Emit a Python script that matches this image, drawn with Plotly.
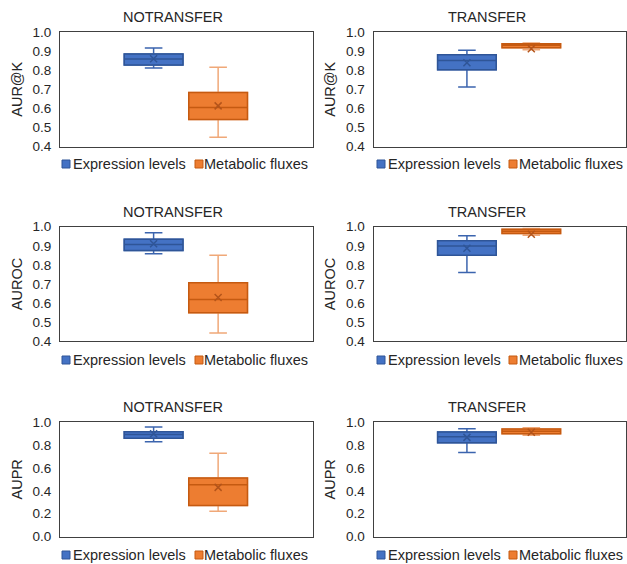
import plotly.graph_objects as go

W, H = 627, 564

series = ["Expression levels", "Metabolic fluxes"]
metrics = ["AUR@K", "AUROC", "AUPR"]
settings = ["NOTRANSFER", "TRANSFER"]

# stats order: lower whisker, Q1, median, Q3, upper whisker, mean
aurk_notransfer_expr = [0.811, 0.827, 0.858, 0.885, 0.916, 0.860]
aurk_notransfer_met = [0.449, 0.542, 0.605, 0.683, 0.815, 0.613]
aurk_transfer_expr = [0.712, 0.802, 0.851, 0.881, 0.905, 0.839]
aurk_transfer_met = [0.907, 0.918, 0.930, 0.938, 0.942, 0.912]
auroc_notransfer_expr = [0.858, 0.876, 0.907, 0.934, 0.968, 0.911]
auroc_notransfer_met = [0.444, 0.550, 0.619, 0.706, 0.851, 0.629]
auroc_transfer_expr = [0.760, 0.850, 0.899, 0.927, 0.953, 0.887]
auroc_transfer_met = [0.955, 0.965, 0.976, 0.986, 0.990, 0.960]
aupr_notransfer_expr = [0.828, 0.858, 0.892, 0.916, 0.956, 0.898]
aupr_notransfer_met = [0.221, 0.273, 0.453, 0.512, 0.727, 0.430]
aupr_transfer_expr = [0.735, 0.820, 0.872, 0.913, 0.942, 0.866]
aupr_transfer_met = [0.884, 0.898, 0.919, 0.939, 0.950, 0.910]

y_ranges = [[0.4, 1.0], [0.4, 1.0], [0.0, 1.0]]
y_dticks = [0.1, 0.1, 0.2]

panel_data = [
    [(aurk_notransfer_expr, aurk_notransfer_met), (aurk_transfer_expr, aurk_transfer_met)],
    [(auroc_notransfer_expr, auroc_notransfer_met), (auroc_transfer_expr, auroc_transfer_met)],
    [(aupr_notransfer_expr, aupr_notransfer_met), (aupr_transfer_expr, aupr_transfer_met)],
]

FONT = "Liberation Sans, Arial, sans-serif"
TXT = "#262626"
fills = ["#4472C4", "#ED7D31"]
borders = ["#2F5597", "#C55A11"]
whisk = ["#3B64AE", "#F0A878"]
means = ["#2F5597", "#B4541A"]
positions = [0.37, 0.625]
BOXW = 0.232

# pixel layout helpers
def px_x(v):
    return v / W

def px_y(v):
    return 1 - v / H

col_x = [(60, 313), (373.5, 626)]
row_y = [(32, 146.5), (226.7, 341.3), (422, 536.7)]
title_x = [173, 487]
title_y = [17, 212, 407]
legend_y = [164, 360, 555]
legend_sq = [(62, 195), (377, 509)]
legend_tx = [(71, 202), (386, 517)]

fig = go.Figure()
layout = dict(
    width=W, height=H, autosize=False,
    margin=dict(l=0, r=0, t=0, b=0, pad=0, autoexpand=False),
    paper_bgcolor="white", plot_bgcolor="white",
    font=dict(family=FONT, color=TXT, size=13.5),
    showlegend=False,
)
annotations = []
shapes = []

idx = 0
for r in range(3):
    for c in range(2):
        idx += 1
        xa = "x" if idx == 1 else f"x{idx}"
        ya = "y" if idx == 1 else f"y{idx}"
        xk = "xaxis" if idx == 1 else f"xaxis{idx}"
        yk = "yaxis" if idx == 1 else f"yaxis{idx}"
        layout[xk] = dict(
            domain=[px_x(col_x[c][0]), px_x(col_x[c][1])], range=[0, 1],
            anchor=ya, showticklabels=False, showgrid=False, zeroline=False,
            showline=True, mirror=True, linecolor="#404040", linewidth=1,
            ticks="", fixedrange=True, automargin=False,
        )
        layout[yk] = dict(
            domain=[px_y(row_y[r][1]), px_y(row_y[r][0])], range=y_ranges[r],
            dtick=y_dticks[r], tick0=0, tickformat=".1f", anchor=xa,
            showgrid=False, zeroline=False, showline=True, mirror=True,
            linecolor="#404040", linewidth=1, ticks="", automargin=False,
            tickfont=dict(size=13.5, color=TXT), ticklabelstandoff=5,
            title=dict(text=metrics[r], font=dict(size=14.5, color=TXT), standoff=6),
            fixedrange=True,
        )
        for s in range(2):
            st = panel_data[r][c][s]
            lo, q1, med, q3, hi, mn = st
            pos = positions[s]
            # whiskers
            fig.add_trace(go.Box(
                x=[pos], lowerfence=[lo], q1=[q1], median=[med], q3=[q3], upperfence=[hi],
                width=BOXW, whiskerwidth=0.3, fillcolor=fills[s],
                line=dict(color=whisk[s], width=1.5), boxpoints=False,
                name=series[s], xaxis=xa, yaxis=ya, hoverinfo="skip", showlegend=False,
            ))
            # box body
            fig.add_trace(go.Box(
                x=[pos], lowerfence=[q1], q1=[q1], median=[med], q3=[q3], upperfence=[q3],
                width=BOXW, whiskerwidth=0, fillcolor=fills[s],
                line=dict(color=borders[s], width=1.5), boxpoints=False,
                name=series[s], xaxis=xa, yaxis=ya, showlegend=False,
            ))
            # mean marker
            fig.add_trace(go.Scatter(
                x=[pos], y=[mn], mode="markers", xaxis=xa, yaxis=ya,
                marker=dict(symbol="x-thin", size=7, line=dict(color=means[s], width=1.5)),
                showlegend=False, name=series[s] + " mean",
            ))
        # subplot title
        annotations.append(dict(
            text=settings[c], x=px_x(title_x[c]), y=px_y(title_y[r]), xref="paper", yref="paper",
            showarrow=False, xanchor="center", yanchor="middle",
            font=dict(size=14.5, color=TXT, family=FONT),
        ))
        # legend
        for s in range(2):
            x0 = legend_sq[c][s]
            yc = legend_y[r]
            shapes.append(dict(
                type="rect", xref="paper", yref="paper",
                x0=px_x(x0), x1=px_x(x0 + 8), y0=px_y(yc + 4), y1=px_y(yc - 4),
                fillcolor=fills[s], line=dict(color=borders[s], width=1),
            ))
            annotations.append(dict(
                text=series[s], x=px_x(legend_tx[c][s]), y=px_y(yc), xref="paper", yref="paper",
                showarrow=False, xanchor="left", yanchor="middle",
                font=dict(size=14.5, color=TXT, family=FONT),
            ))

layout["annotations"] = annotations
layout["shapes"] = shapes
fig.update_layout(**layout)
fig.write_html(
    "out.html",
    config={"displayModeBar": False},
    post_script=(
        "var d=document.getElementById('{plot_id}');"
        "d.style.position='fixed';d.style.left='0px';d.style.top='0px';"
        "document.body.style.margin='0px';document.body.style.overflow='hidden';"
        "document.documentElement.style.overflow='hidden';"
    ),
)
